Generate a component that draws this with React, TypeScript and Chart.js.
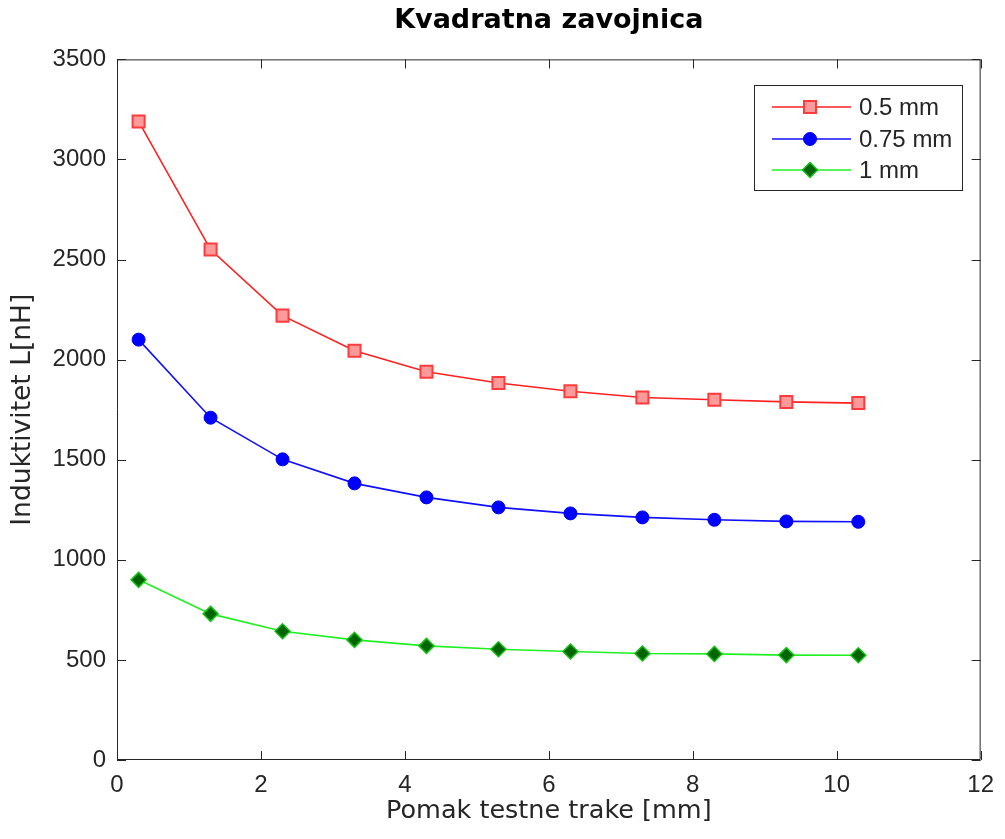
import React, { useEffect, useRef } from "react";
import { Chart, registerables } from "chart.js";

Chart.register(...registerables);

const titleText = "Kvadratna zavojnica";
const xAxisTitle = "Pomak testne trake [mm]";
const yAxisTitle = "Induktivitet L[nH]";
const xValues = [0.3, 1.3, 2.3, 3.3, 4.3, 5.3, 6.3, 7.3, 8.3, 9.3, 10.3];
const series05 = [3190, 2550, 2220, 2045, 1940, 1883, 1842, 1811, 1800, 1789, 1783];
const series075 = [2100, 1710, 1502, 1382, 1312, 1262, 1232, 1212, 1200, 1192, 1190];
const series1 = [900, 730, 643, 600, 570, 553, 542, 532, 530, 524, 523];
const seriesLabels = ["0.5 mm", "0.75 mm", "1 mm"];
const xTicks = [0, 2, 4, 6, 8, 10, 12];
const yTicks = [0, 500, 1000, 1500, 2000, 2500, 3000, 3500];

const TEXT = "#262626";

function drawMarker(ctx: CanvasRenderingContext2D, style: string, x: number, y: number, r: number) {
  ctx.beginPath();
  if (style === "rect") {
    const s = Math.SQRT1_2 * r;
    ctx.rect(x - s, y - s, 2 * s, 2 * s);
  } else if (style === "rectRot") {
    ctx.moveTo(x, y - r);
    ctx.lineTo(x + r, y);
    ctx.lineTo(x, y + r);
    ctx.lineTo(x - r, y);
    ctx.closePath();
  } else {
    ctx.arc(x, y, r, 0, Math.PI * 2);
  }
  ctx.fill();
  ctx.stroke();
}

const boxPlugin = {
  id: "matlabBox",
  beforeDatasetsDraw(chart: any) {
    const { ctx, chartArea: a, scales } = chart;
    ctx.save();
    ctx.strokeStyle = TEXT;
    ctx.lineWidth = 1;
    ctx.beginPath();
    ctx.rect(a.left + 0.5, a.top + 0.5, a.right - a.left - 1, a.bottom - a.top - 1);
    const tl = 9;
    xTicks.forEach((v) => {
      const px = Math.round(scales.x.getPixelForValue(v)) + 0.5;
      ctx.moveTo(px, a.bottom);
      ctx.lineTo(px, a.bottom - tl);
      ctx.moveTo(px, a.top);
      ctx.lineTo(px, a.top + tl);
    });
    yTicks.forEach((v) => {
      const py = Math.round(scales.y.getPixelForValue(v)) + 0.5;
      ctx.moveTo(a.left, py);
      ctx.lineTo(a.left + tl, py);
      ctx.moveTo(a.right, py);
      ctx.lineTo(a.right - tl, py);
    });
    ctx.stroke();
    ctx.restore();
  },
};

const legendPlugin = {
  id: "matlabLegend",
  afterDraw(chart: any) {
    const { ctx } = chart;
    const bx = 754.5, by = 85.5, bw = 208, bh = 105;
    ctx.save();
    ctx.fillStyle = "#ffffff";
    ctx.fillRect(bx, by, bw, bh);
    ctx.strokeStyle = TEXT;
    ctx.lineWidth = 1;
    ctx.strokeRect(bx, by, bw, bh);
    const rows = [107, 139, 170];
    chart.data.datasets.forEach((ds: any, i: number) => {
      const y = rows[i];
      ctx.strokeStyle = ds.borderColor;
      ctx.lineWidth = ds.borderWidth;
      ctx.beginPath();
      ctx.moveTo(772, y);
      ctx.lineTo(851, y);
      ctx.stroke();
      ctx.fillStyle = ds.pointBackgroundColor;
      ctx.strokeStyle = ds.pointBorderColor;
      ctx.lineWidth = ds.pointBorderWidth;
      drawMarker(ctx, ds.pointStyle, 810, y, ds.pointRadius);
      ctx.fillStyle = TEXT;
      ctx.font = "24px 'Liberation Sans', Arial, sans-serif";
      ctx.textAlign = "left";
      ctx.textBaseline = "middle";
      ctx.fillText(ds.label, 859, y + 1);
    });
    ctx.restore();
  },
};

export default function App() {
  const ref = useRef<HTMLCanvasElement | null>(null);

  useEffect(() => {
    if (!ref.current) return;
    const toPts = (vals: number[]) => vals.map((v, i) => ({ x: xValues[i], y: v }));
    const chart = new Chart(ref.current, {
      type: "line",
      data: {
        datasets: [
          {
            label: seriesLabels[0],
            data: toPts(series05),
            borderColor: "#ff2020",
            borderWidth: 1.6,
            pointStyle: "rect",
            pointRadius: 8.5,
            pointBackgroundColor: "#ff9a9a",
            pointBorderColor: "#ff3b3b",
            pointBorderWidth: 2,
            tension: 0,
          },
          {
            label: seriesLabels[1],
            data: toPts(series075),
            borderColor: "#1010ff",
            borderWidth: 1.6,
            pointStyle: "circle",
            pointRadius: 6.5,
            pointBackgroundColor: "#0000ff",
            pointBorderColor: "#0000ff",
            pointBorderWidth: 1,
            tension: 0,
          },
          {
            label: seriesLabels[2],
            data: toPts(series1),
            borderColor: "#20f020",
            borderWidth: 1.6,
            pointStyle: "rectRot",
            pointRadius: 7.5,
            pointBackgroundColor: "#006400",
            pointBorderColor: "#10c010",
            pointBorderWidth: 1.5,
            tension: 0,
          },
        ],
      },
      options: {
        animation: false,
        responsive: false,
        maintainAspectRatio: false,
        layout: { padding: { top: 0, right: 15, left: 0, bottom: 0 } },
        plugins: {
          legend: { display: false },
          tooltip: { enabled: false },
          title: {
            display: true,
            text: titleText,
            fullSize: false,
            color: "#000000",
            font: { family: "'DejaVu Sans', sans-serif", size: 27, weight: "bold" },
            padding: { top: 5, bottom: 22 },
          },
        },
        scales: {
          x: {
            type: "linear",
            min: 0,
            max: 12,
            afterFit: (s: any) => {
              s.height = 79;
            },
            afterBuildTicks: (s: any) => {
              s.ticks = xTicks.map((v) => ({ value: v }));
            },
            grid: { display: false, drawTicks: false },
            border: { display: false },
            ticks: {
              color: TEXT,
              padding: 11,
              maxRotation: 0,
              callback: (v: any) => String(v),
              font: { family: "'Liberation Sans', Arial, sans-serif", size: 24 },
            },
            title: {
              display: true,
              text: xAxisTitle,
              color: TEXT,
              font: { family: "'DejaVu Sans', sans-serif", size: 25.5 },
              padding: { top: 0, bottom: 12 },
            },
          },
          y: {
            type: "linear",
            min: 0,
            max: 3500,
            afterFit: (s: any) => {
              s.width = 117;
            },
            afterBuildTicks: (s: any) => {
              s.ticks = yTicks.map((v) => ({ value: v }));
            },
            grid: { display: false, drawTicks: false },
            border: { display: false },
            ticks: {
              color: TEXT,
              padding: 11,
              callback: (v: any) => String(v),
              font: { family: "'Liberation Sans', Arial, sans-serif", size: 24 },
            },
            title: {
              display: true,
              text: yAxisTitle,
              color: TEXT,
              font: { family: "'DejaVu Sans', sans-serif", size: 26.5 },
              padding: { top: 7, bottom: 0 },
            },
          },
        },
      },
      plugins: [boxPlugin, legendPlugin],
    });
    return () => chart.destroy();
  }, []);

  return (
    <div style={{ position: "absolute", left: 0, top: 0, width: 1005, height: 839, background: "#ffffff" }}>
      <canvas ref={ref} width={1005} height={839} style={{ display: "block" }} />
    </div>
  );
}
